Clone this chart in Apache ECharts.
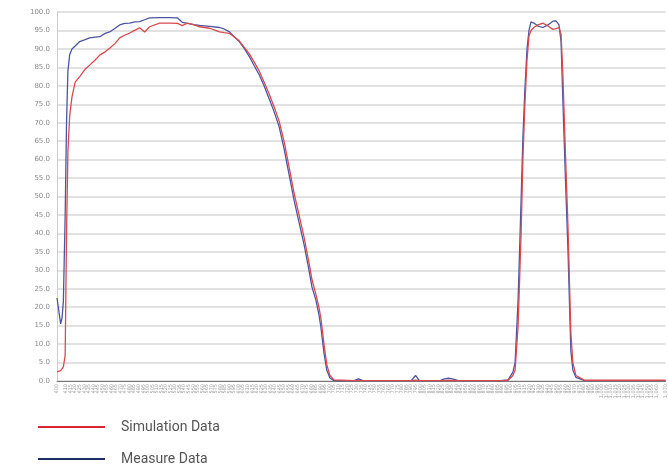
<!DOCTYPE html>
<html>
<head>
<meta charset="utf-8">
<script src="https://cdn.jsdelivr.net/npm/echarts@6/dist/echarts.min.js"></script>
<style>html,body{margin:0;padding:0;background:#fff;}#c{width:668px;height:468px;}</style>
</head>
<body>
<div id="c"></div>
<script>
// Wavelength sampling points (nm)
var wavelengths = [400,402,404,405.5,407,409,410.5,412,414,416.5,420,425,431,436,442,447,453,458,464,469,474.5,480,485.5,491,496.5,502,513,524,532.7,538,543.7,551,557,568,579,584,590,595,600.7,606,611.6,617,622.6,628,633.6,639,644.5,650,655.5,661,666.5,672,677.5,680.7,685,688.4,690.6,694,697,700.5,705,727,732,737,790,794.8,799,822,825.5,831,836.5,842,889,896.7,902,904.4,907.7,911,913,915,917.5,919.7,921.9,925,929.6,935,940.6,946,949.4,952.7,955,957,959.8,962.6,965.8,968,971.3,981,1070];
// Transmission (%)
var measureData = [22.5,19,15.5,17,21.5,45,70,84,88.5,90,90.8,92,92.5,93,93.2,93.3,94.2,94.6,95.6,96.5,96.9,97,97.3,97.4,97.9,98.4,98.5,98.5,98.4,97.2,96.9,96.6,96.4,96.1,95.8,95.4,94.6,93.3,92,90.2,88,85.5,83,80,76.5,73,69,63,56,49,43,37,30,25.5,22,18,14.5,7.5,3,0.8,0.1,0.1,0.6,0.1,0.1,1.5,0.1,0.1,0.5,0.8,0.5,0.1,0.1,0.3,2.4,5,22,49,66,78,90,95,97.3,97,96.2,95.8,96.5,97.5,97.6,96.5,92,76,55,35.5,8,3,1,0.1,0.1];
var simulationData = [2.5,2.6,2.8,3.2,3.8,7,40,62,72,77,81,82.5,84.5,85.6,87,88.3,89.2,90.2,91.5,93,93.7,94.3,95,95.7,94.6,96,97,97,96.9,96.3,97,96.5,96,95.6,94.6,94.4,94.2,93.3,92.2,90.5,88.7,86.5,84,81,77.8,74.3,70.5,65,58,51,45,39,32,27.5,23.5,20,17,10,4.5,1.5,0.3,0.1,0.1,0.1,0.1,0.2,0.1,0.1,0.1,0.2,0.1,0.1,0.1,0.2,1.5,3,15,40,60,74,87,93.5,95,95.8,96.5,97,96.2,95.3,95.5,95.8,94,83,62,42,13,5,1.5,0.2,0.2];
var seriesNames = ['Simulation Data', 'Measure Data'];

function pairs(ys){ return wavelengths.map(function(w,i){ return [w, ys[i]]; }); }

var chart = echarts.init(document.getElementById('c'), null, {renderer:'canvas'});
chart.setOption({
  animation: false,
  backgroundColor: '#fff',
  grid: {left: 57, right: 0, top: 12, bottom: 87},
  legend: {
    orient: 'vertical', left: 38, top: 419, padding: 0, height: 60,
    icon: 'rect', itemWidth: 67, itemHeight: 2, itemGap: 16,
    data: [
      {name: seriesNames[0], itemStyle: {color: '#d7262d'}},
      {name: seriesNames[1], itemStyle: {color: '#1f2d66'}}
    ],
    textStyle: {fontFamily: 'Roboto', fontSize: 14, color: '#555', lineHeight: 16, padding: [0,0,0,11]}
  },
  xAxis: {
    type: 'value', min: 400, max: 1070, interval: 5,
    axisLine: {lineStyle: {color: '#777', width: 1}},
    axisTick: {show: false},
    splitLine: {show: false},
    axisLabel: {rotate: 90, fontSize: 5, color: '#999', margin: 3, fontFamily: 'DejaVu Sans', showMinLabel: true, showMaxLabel: true}
  },
  yAxis: {
    type: 'value', min: 0, max: 100, interval: 5,
    axisLine: {show: true, lineStyle: {color: '#ccc'}},
    axisTick: {show: false},
    splitLine: {lineStyle: {color: '#d9d9d9', width: 1.5}},
    axisLabel: {fontSize: 7, color: '#8c8c8c', margin: 7, fontFamily: 'DejaVu Sans',
      formatter: function(v){ return v.toFixed(1); }}
  },
  series: [
    {name: seriesNames[0], type: 'line', data: pairs(simulationData), showSymbol: false, z: 3,
      lineStyle: {color: '#d64a50', width: 1.3}, itemStyle: {color: '#d7262d'}},
    {name: seriesNames[1], type: 'line', data: pairs(measureData), showSymbol: false, z: 2,
      lineStyle: {color: '#4c559e', width: 1.3}, itemStyle: {color: '#1f2d66'}}
  ]
});
</script>
</body>
</html>
